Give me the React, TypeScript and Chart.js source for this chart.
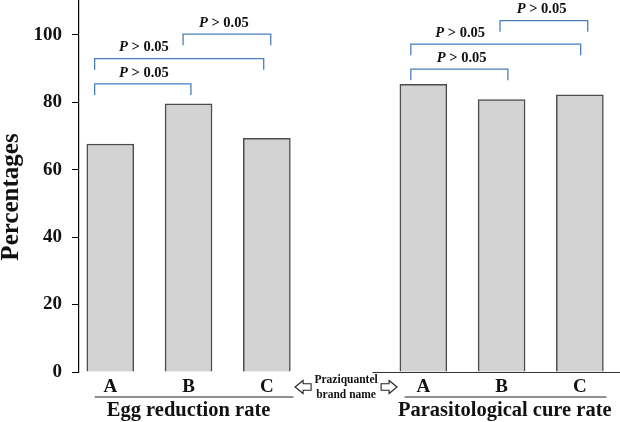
import React, { useEffect, useRef } from "react";
import { Chart, registerables } from "chart.js";

Chart.register(...registerables);

// ---- Data ----
const categories = ["A", "B", "C"];
const groupTitles = ["Egg reduction rate", "Parasitological cure rate"];
const eggReductionRate = [67.6, 79.5, 69.3];
const parasitologicalCureRate = [85.3, 80.8, 82.2];
const eggPositions = [0, 1, 2];
const curePositions = [4, 5, 6];
const yTickValues = [0, 20, 40, 60, 80, 100];
const yAxisTitle = "Percentages";
const middleLabel = ["Praziquantel", "brand name"];
const pText = "P > 0.05";
// comparison brackets (x in category units, y in percentage units)
const bracketStart = [-0.2, -0.2, 0.93, 3.84, 3.84, 4.98];
const bracketEnd = [1.03, 1.96, 2.05, 5.08, 6.01, 6.1];
const bracketLevel = [85.4, 92.9, 100.2, 89.8, 97.2, 104.2];
const bracketLabelX = [0.43, 0.43, 1.45, 4.49, 4.47, 5.51];

const SERIF = "'Liberation Serif', 'Times New Roman', serif";
const BLUE = "#4a7ebb";
const INK = "#111111";

function drawArrow(ctx: any, x: number, y: number, dir: number) {
  // outlined block arrow, x = tip position, dir = -1 points left, 1 points right
  const len = 16;
  const head = 8;
  const hh = 6.5;
  const sh = 3.2;
  const p = (dx: number, dy: number) => [x - dir * dx, y + dy];
  const pts = [
    p(0, 0),
    p(head, -hh),
    p(head, -sh),
    p(len, -sh),
    p(len, sh),
    p(head, sh),
    p(head, hh),
  ];
  ctx.beginPath();
  ctx.moveTo(pts[0][0], pts[0][1]);
  for (let i = 1; i < pts.length; i++) ctx.lineTo(pts[i][0], pts[i][1]);
  ctx.closePath();
  ctx.fillStyle = "#fff";
  ctx.fill();
  ctx.strokeStyle = "#222";
  ctx.lineWidth = 1.1;
  ctx.stroke();
}

const decorPlugin = {
  id: "decor",
  afterDraw(chart: any) {
    const ctx = chart.ctx;
    const xs = chart.scales.x;
    const ys = chart.scales.y;
    const base = ys.getPixelForValue(0);
    ctx.save();

    // baseline under right group
    ctx.strokeStyle = "#333";
    ctx.lineWidth = 1;
    ctx.beginPath();
    ctx.moveTo(xs.getPixelForValue(3.35), base + 0.5);
    ctx.lineTo(chart.width, base + 0.5);
    ctx.stroke();

    // category labels
    ctx.fillStyle = INK;
    ctx.textAlign = "center";
    ctx.textBaseline = "middle";
    ctx.font = `bold 19px ${SERIF}`;
    [eggPositions, curePositions].forEach((pos) => {
      pos.forEach((p, i) => {
        ctx.fillText(categories[i], xs.getPixelForValue(p), base + 15);
      });
    });

    // underlines
    ctx.strokeStyle = "#222";
    ctx.lineWidth = 1.2;
    const underY = base + 25;
    ctx.beginPath();
    ctx.moveTo(xs.getPixelForValue(-0.2), underY);
    ctx.lineTo(xs.getPixelForValue(2.34), underY);
    ctx.moveTo(xs.getPixelForValue(3.76), underY);
    ctx.lineTo(xs.getPixelForValue(6.34), underY);
    ctx.stroke();

    // group titles
    ctx.font = `bold 20.5px ${SERIF}`;
    ctx.fillText(groupTitles[0], xs.getPixelForValue(1.0), base + 39);
    ctx.fillText(groupTitles[1], xs.getPixelForValue(5.04), base + 39);

    // middle text + arrows
    const mid = xs.getPixelForValue(3.0);
    ctx.font = `bold 11.5px ${SERIF}`;
    ctx.fillText(middleLabel[0], mid + 1, base + 8);
    ctx.fillText(middleLabel[1], mid + 1, base + 23);
    drawArrow(ctx, mid - 50, base + 15, -1);
    drawArrow(ctx, mid + 52, base + 15, 1);

    // brackets
    ctx.strokeStyle = BLUE;
    ctx.lineWidth = 1.3;
    for (let i = 0; i < bracketStart.length; i++) {
      const x1 = xs.getPixelForValue(bracketStart[i]);
      const x2 = xs.getPixelForValue(bracketEnd[i]);
      const y = ys.getPixelForValue(bracketLevel[i]);
      const yb = ys.getPixelForValue(bracketLevel[i] - 3.3);
      ctx.strokeStyle = BLUE;
      ctx.lineWidth = 1.3;
      ctx.beginPath();
      ctx.moveTo(x1, yb);
      ctx.lineTo(x1, y);
      ctx.lineTo(x2, y);
      ctx.lineTo(x2, yb);
      ctx.stroke();

      // label "P > 0.05" with italic P
      const cx = xs.getPixelForValue(bracketLabelX[i]);
      const ly = y - 11;
      ctx.fillStyle = INK;
      ctx.textBaseline = "middle";
      ctx.font = `italic bold 14.5px ${SERIF}`;
      const pW = ctx.measureText("P").width;
      ctx.font = `bold 14.5px ${SERIF}`;
      const rest = pText.slice(1);
      const rW = ctx.measureText(rest).width;
      const start = cx - (pW + rW) / 2;
      ctx.textAlign = "left";
      ctx.font = `italic bold 14.5px ${SERIF}`;
      ctx.fillText("P", start, ly);
      ctx.font = `bold 14.5px ${SERIF}`;
      ctx.fillText(rest, start + pW, ly);
    }

    // y axis title
    ctx.save();
    ctx.translate(12, 197);
    ctx.rotate(-Math.PI / 2);
    ctx.textAlign = "center";
    ctx.textBaseline = "middle";
    ctx.font = `bold 25px ${SERIF}`;
    ctx.fillStyle = INK;
    ctx.fillText(yAxisTitle, 0, 0);
    ctx.restore();

    ctx.restore();
  },
};

export default function App() {
  const canvasRef = useRef<HTMLCanvasElement | null>(null);

  useEffect(() => {
    if (!canvasRef.current) return;
    const points = [
      ...eggPositions.map((x, i) => ({ x, y: eggReductionRate[i] })),
      ...curePositions.map((x, i) => ({ x, y: parasitologicalCureRate[i] })),
    ];
    const chart = new Chart(canvasRef.current, {
      type: "bar",
      data: {
        datasets: [
          {
            data: points as any,
            backgroundColor: "#d3d3d3",
            borderColor: "#4d4d4d",
            borderWidth: 1.5,
            barThickness: 47,
          },
        ],
      },
      options: {
        responsive: false,
        animation: false,
        layout: { padding: { left: 0, right: 1, top: 1, bottom: 50 } },
        plugins: {
          legend: { display: false },
          tooltip: { enabled: false },
        },
        scales: {
          x: {
            type: "linear",
            min: -0.4,
            max: 6.5,
            offset: false,
            display: false,
          },
          y: {
            min: 0,
            max: 110,
            afterFit(scale: any) {
              scale.width = 79;
              scale.paddingTop = 0;
              scale.paddingBottom = 0;
            },
            afterBuildTicks(scale: any) {
              scale.ticks = yTickValues.map((v) => ({ value: v }));
            },
            grid: {
              drawOnChartArea: false,
              drawTicks: true,
              tickLength: 7,
              color: "#000",
              lineWidth: 1,
            },
            border: { display: true, color: "#000", width: 1.2 },
            ticks: {
              color: INK,
              padding: 10,
              font: { family: SERIF, size: 19, weight: "bold" },
            },
          },
        },
      },
      plugins: [decorPlugin],
    });
    return () => chart.destroy();
  }, []);

  return (
    <div style={{ position: "absolute", left: 0, top: 0, width: 620, height: 422, background: "#fff" }}>
      <canvas ref={canvasRef} width={620} height={422} />
    </div>
  );
}
